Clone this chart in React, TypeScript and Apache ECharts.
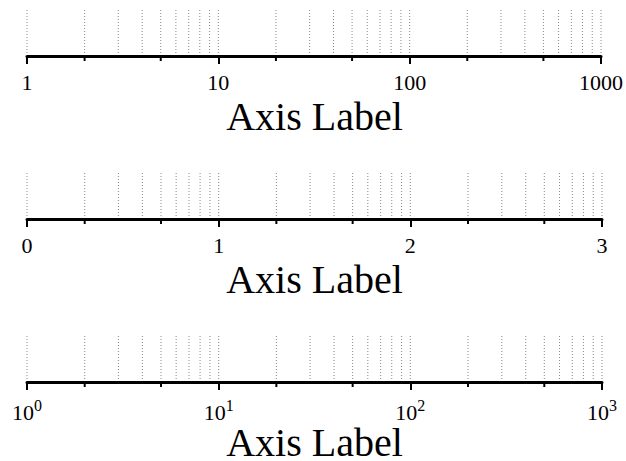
import React, { useEffect, useRef } from "react";
import * as echarts from "echarts";

const axisMin = 1;
const axisMax = 1000;
const axisTitle = "Axis Label";
const gridLineValues = [
  1, 2, 3, 4, 5, 6, 7, 8, 9,
  10, 20, 30, 40, 50, 60, 70, 80, 90,
  100, 200, 300, 400, 500, 600, 700, 800, 900,
  1000,
];
const minorTickValues = [2, 5, 20, 50, 200, 500];

const FONT = "'Liberation Serif', 'Times New Roman', serif";
const axisLineY = [56, 219, 382];
const gridHeight = 46;
const plotLeft = 27;
const plotRight = 602;

export default function App() {
  const ref = useRef<HTMLDivElement>(null);
  useEffect(() => {
    if (!ref.current) return;
    const chart = echarts.init(ref.current, null, { renderer: "svg" });
    const grids = axisLineY.map((y) => ({
      left: plotLeft,
      right: 626 - plotRight,
      top: y - gridHeight,
      height: gridHeight,
    }));
    const formatters = [
      (v: number) => String(Math.round(v)),
      (v: number) => String(Math.round(Math.log10(v))),
      (v: number) => `{b|10}{s|${Math.round(Math.log10(v))}}`,
    ];
    const xAxes = grids.map((_, i) => ({
      type: "log",
      logBase: 10,
      gridIndex: i,
      min: axisMin,
      max: axisMax,
      position: "bottom",
      axisLine: { show: true, lineStyle: { color: "#000", width: 3 } },
      axisTick: { show: true, length: 8, lineStyle: { color: "#000", width: 2 } },
      splitLine: { show: false },
      minorTick: { show: false },
      axisLabel: {
        show: true,
        margin: 15,
        fontFamily: FONT,
        fontSize: 22,
        color: "#000",
        formatter: formatters[i],
        rich: {
          b: { fontFamily: FONT, fontSize: 22, color: "#000" },
          s: { fontFamily: FONT, fontSize: 16, color: "#000", padding: [0, 0, 14, 0] },
        },
      },
    }));
    const yAxes = grids.map((_, i) => ({
      type: "value",
      gridIndex: i,
      min: 0,
      max: 1,
      show: false,
    }));
    const series: any[] = [];
    grids.forEach((_, i) => {
      series.push({
        type: "custom",
        xAxisIndex: i,
        yAxisIndex: i,
        silent: true,
        data: gridLineValues.map((v) => [v, 0]),
        encode: { x: 0, y: 1 },
        renderItem: (params: any, api: any) => {
          const v = api.value(0);
          const p0 = api.coord([v, 1]);
          const p1 = api.coord([v, 0]);
          return {
            type: "line",
            shape: { x1: p0[0], y1: p0[1], x2: p1[0], y2: p1[1] - 3 },
            style: { stroke: "#888", lineWidth: 1, lineDash: [1, 2] },
          };
        },
      });
      series.push({
        type: "custom",
        xAxisIndex: i,
        yAxisIndex: i,
        silent: true,
        data: minorTickValues.map((v) => [v, 0]),
        encode: { x: 0, y: 1 },
        renderItem: (params: any, api: any) => {
          const v = api.value(0);
          const p = api.coord([v, 0]);
          return {
            type: "line",
            shape: { x1: p[0], y1: p[1] + 1, x2: p[0], y2: p[1] + 5 },
            style: { stroke: "#000", lineWidth: 2 },
          };
        },
      });
    });
    const graphic = axisLineY.map((y) => ({
      type: "text",
      x: (plotLeft + plotRight) / 2,
      y: y + 40,
      silent: true,
      style: {
        text: axisTitle,
        fontFamily: FONT,
        fontSize: 40,
        fill: "#000",
        align: "center",
        verticalAlign: "top",
      },
    }));
    chart.setOption({
      animation: false,
      backgroundColor: "#fff",
      grid: grids,
      xAxis: xAxes,
      yAxis: yAxes,
      series,
      graphic,
    });
    return () => chart.dispose();
  }, []);
  return (
    <div
      ref={ref}
      style={{ position: "fixed", left: 0, top: 0, width: 626, height: 461 }}
    />
  );
}
